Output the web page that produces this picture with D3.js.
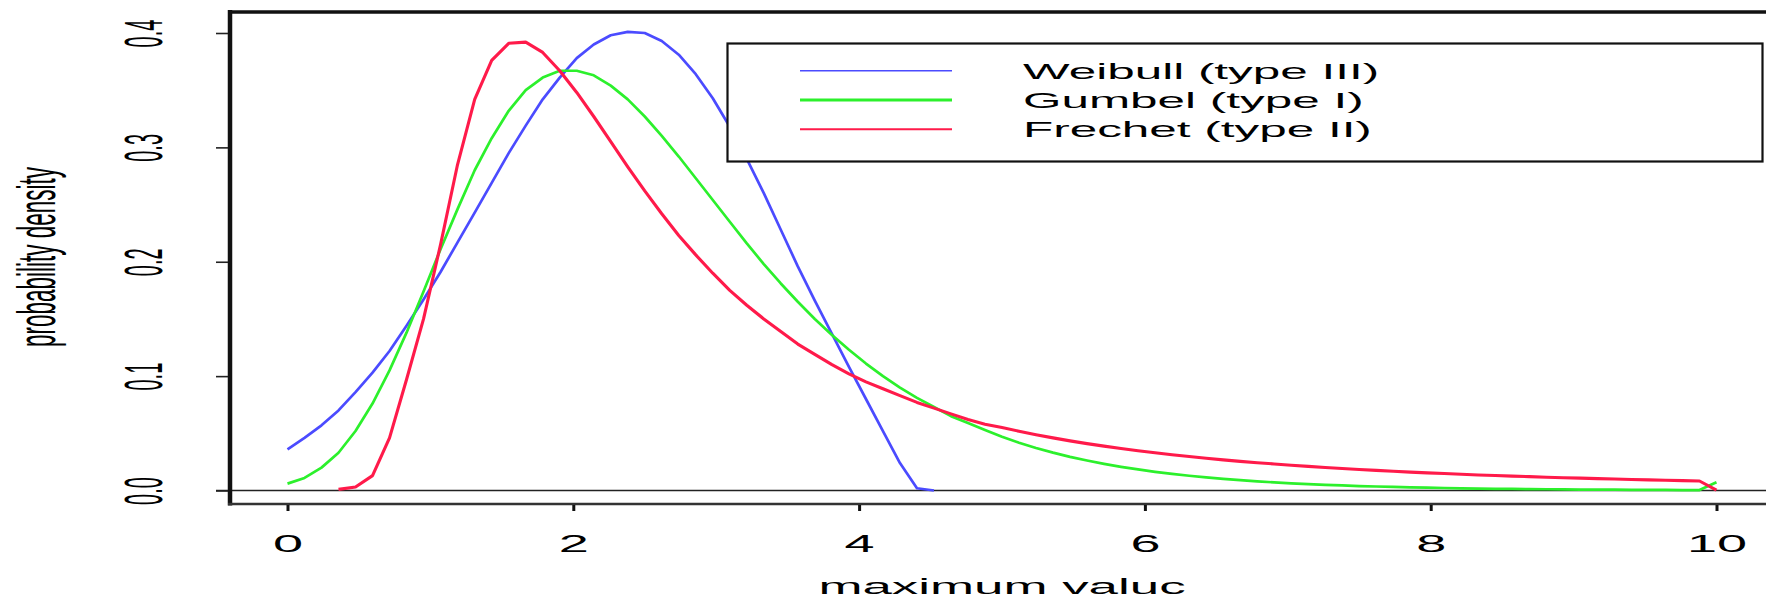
<!DOCTYPE html>
<html>
<head>
<meta charset="utf-8">
<script src="https://cdn.jsdelivr.net/npm/d3@7"></script>
<style>
  html, body { margin: 0; padding: 0; background: #fff; }
  svg { display: block; }
  text { font-family: "Liberation Sans", Arial, Helvetica, sans-serif; fill: #000; }
</style>
</head>
<body>
<svg id="chart" width="1766" height="598"></svg>
<script>
// Evaluation grid for the densities (85 points over 0..10)
const gridX = [0, 0.119, 0.238, 0.357, 0.476, 0.595, 0.714, 0.833, 0.952, 1.071,
  1.190, 1.310, 1.429, 1.548, 1.667, 1.786, 1.905, 2.024, 2.143, 2.262,
  2.381, 2.500, 2.619, 2.738, 2.857, 2.976, 3.095, 3.214, 3.333, 3.452,
  3.571, 3.690, 3.810, 3.929, 4.048, 4.167, 4.286, 4.405, 4.524, 4.643,
  4.762, 4.881, 5.000, 5.119, 5.238, 5.357, 5.476, 5.595, 5.714, 5.833,
  5.952, 6.071, 6.190, 6.310, 6.429, 6.548, 6.667, 6.786, 6.905, 7.024,
  7.143, 7.262, 7.381, 7.500, 7.619, 7.738, 7.857, 7.976, 8.095, 8.214,
  8.333, 8.452, 8.571, 8.690, 8.810, 8.929, 9.048, 9.167, 9.286, 9.405,
  9.524, 9.643, 9.762, 9.881, 10];

// Weibull (type III): bounded above, drawn only up to its end point
const weibull = [0.036, 0.046, 0.057, 0.070, 0.086, 0.103, 0.122, 0.144, 0.167, 0.191,
  0.217, 0.243, 0.269, 0.295, 0.319, 0.342, 0.361, 0.378, 0.390, 0.398,
  0.401, 0.400, 0.393, 0.381, 0.364, 0.343, 0.318, 0.290, 0.260, 0.228,
  0.196, 0.166, 0.137, 0.108, 0.080, 0.052, 0.024, 0.002, 0.000];

// Gumbel (type I)
const gumbel = [0.006, 0.011, 0.020, 0.033, 0.052, 0.076, 0.105, 0.138, 0.174, 0.211,
  0.246, 0.280, 0.308, 0.332, 0.350, 0.361, 0.367, 0.367, 0.363, 0.354,
  0.342, 0.327, 0.310, 0.292, 0.273, 0.254, 0.235, 0.216, 0.198, 0.181,
  0.165, 0.150, 0.136, 0.123, 0.111, 0.100, 0.090, 0.081, 0.073, 0.065,
  0.059, 0.053, 0.047, 0.0418, 0.0372, 0.0331, 0.0294, 0.0262, 0.0233, 0.0207,
  0.0184, 0.0163, 0.0145, 0.0129, 0.0114, 0.0102, 0.0090, 0.0080, 0.0071, 0.0063,
  0.0056, 0.0050, 0.0044, 0.0039, 0.0035, 0.0031, 0.0028, 0.0025, 0.0022, 0.0019,
  0.0017, 0.0015, 0.0014, 0.0012, 0.0011, 0.0010, 0.0008, 0.0008, 0.0007, 0.0006,
  0.0005, 0.0005, 0.0004, 0.0004, 0.0073];

// Frechet (type II): starts a little above zero
const frechet = [null, null, null, 0.001, 0.003, 0.013, 0.046, 0.097, 0.150, 0.215,
  0.285, 0.342, 0.376, 0.391, 0.392, 0.383, 0.367, 0.348, 0.327, 0.305,
  0.283, 0.262, 0.242, 0.223, 0.206, 0.190, 0.175, 0.162, 0.150, 0.139,
  0.128, 0.119, 0.110, 0.102, 0.095, 0.089, 0.083, 0.077, 0.072, 0.067,
  0.062, 0.058, 0.055, 0.0518, 0.0488, 0.0460, 0.0434, 0.0410, 0.0388, 0.0367,
  0.0348, 0.0330, 0.0313, 0.0297, 0.0282, 0.0268, 0.0255, 0.0243, 0.0232, 0.0221,
  0.0211, 0.0201, 0.0192, 0.0184, 0.0176, 0.0168, 0.0161, 0.0154, 0.0148, 0.0142,
  0.0136, 0.0131, 0.0126, 0.0121, 0.0116, 0.0112, 0.0108, 0.0104, 0.0100, 0.0096,
  0.0093, 0.0089, 0.0086, 0.0083, 0.0003];

const xTicks = [0, 2, 4, 6, 8, 10];
const yTicks = [0, 0.1, 0.2, 0.3, 0.4];
const seriesNames = ["Weibull (type III)", "Gumbel (type I)", "Frechet (type II)"];
const seriesColors = ["#4b4bff", "#2cf02c", "#ff1a4a"];
const xTitle = "maximum valuc";
const yTitle = "probability density";

const svg = d3.select("#chart");
svg.append("rect").attr("width", 1766).attr("height", 598).attr("fill", "#fff");

const x = d3.scaleLinear().domain([0, 10]).range([287.5, 1716.5]);
const y = d3.scaleLinear().domain([0, 0.4]).range([490.5, 33]);

// reference line at zero density
svg.append("line")
  .attr("x1", 216).attr("x2", 1766)
  .attr("y1", y(0)).attr("y2", y(0))
  .attr("stroke", "#222").attr("stroke-width", 1.6);

// density curves
const line = d3.line()
  .defined(d => d[1] != null)
  .x(d => x(d[0]))
  .y(d => y(d[1]));

const curveWidths = [2.7, 2.7, 3.1];
[weibull, gumbel, frechet].forEach((vals, i) => {
  svg.append("path")
    .datum(vals.map((v, j) => [gridX[j], v]))
    .attr("d", line)
    .attr("fill", "none")
    .attr("stroke", seriesColors[i])
    .attr("stroke-width", curveWidths[i])
    .attr("stroke-linejoin", "round");
});

// plot frame (left, top, bottom; the right side runs off the page)
svg.append("line").attr("x1", 230).attr("x2", 230).attr("y1", 10).attr("y2", 505.5)
  .attr("stroke", "#111").attr("stroke-width", 4.5);
svg.append("line").attr("x1", 228).attr("x2", 1766).attr("y1", 12).attr("y2", 12)
  .attr("stroke", "#111").attr("stroke-width", 3.5);
svg.append("line").attr("x1", 228).attr("x2", 1766).attr("y1", 504).attr("y2", 504)
  .attr("stroke", "#333").attr("stroke-width", 2.5);

// y axis
const yAxis = svg.append("g")
  .attr("transform", "translate(228,0)")
  .call(d3.axisLeft(y).tickValues(yTicks).tickSize(12).tickFormat(d3.format(".1f")));
yAxis.select(".domain").remove();
yAxis.selectAll(".tick line").attr("stroke", "#222").attr("stroke-width", 1.6);
yAxis.selectAll(".tick text")
  .attr("x", 0).attr("dy", 0)
  .attr("text-anchor", "middle")
  .attr("transform", "translate(-66,0) scale(2.7,1) rotate(-90)")
  .style("font-size", "20px");

svg.append("text")
  .attr("transform", "translate(54.7,257) scale(2.4,1) rotate(-90)")
  .attr("text-anchor", "middle")
  .style("font-size", "22.5px")
  .text(yTitle);

// x axis
const xAxis = svg.append("g")
  .attr("transform", "translate(0,505)")
  .call(d3.axisBottom(x).tickValues(xTicks).tickSize(6).tickFormat(d3.format("d")));
xAxis.select(".domain").remove();
xAxis.selectAll(".tick line").attr("stroke", "#111").attr("stroke-width", 3);
xAxis.selectAll(".tick text")
  .attr("y", 0).attr("dy", 0)
  .attr("text-anchor", "middle")
  .attr("transform", "translate(0,47) scale(2.3,1)")
  .style("font-size", "23.5px");

svg.append("text")
  .attr("transform", "translate(1002,594) scale(2.3,1)")
  .attr("text-anchor", "middle")
  .style("font-size", "23px")
  .text(xTitle);

// legend
const legend = svg.append("g");
legend.append("rect")
  .attr("x", 727.5).attr("y", 43.5)
  .attr("width", 1035).attr("height", 118)
  .attr("fill", "#fff").attr("stroke", "#111").attr("stroke-width", 2.2);

const legendWidths = [1.6, 3, 2];
const rowY = d3.scalePoint().domain(seriesNames).range([70.7, 129.3]);
seriesNames.forEach((name, i) => {
  const ry = rowY(name);
  legend.append("line")
    .attr("x1", 800).attr("x2", 952).attr("y1", ry).attr("y2", ry)
    .attr("stroke", seriesColors[i]).attr("stroke-width", legendWidths[i]);
  legend.append("text")
    .attr("transform", `translate(1023,${ry + 7.8}) scale(2.3,1)`)
    .style("font-size", "21.5px")
    .text(name);
});
</script>
</body>
</html>
